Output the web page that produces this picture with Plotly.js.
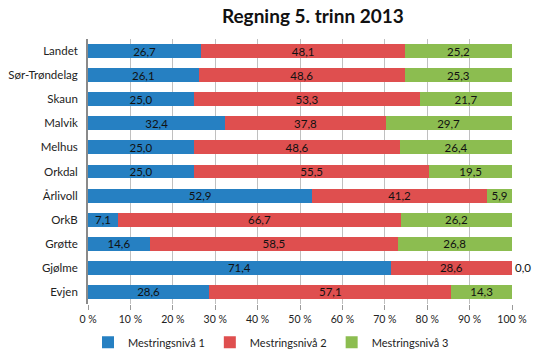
<!DOCTYPE html>
<html><head><meta charset="utf-8">
<script src="https://cdn.plot.ly/plotly-3.0.1.min.js"></script>
<style>html,body{margin:0;padding:0;background:#fff}#c{width:533px;height:360px}</style>
</head><body><div id="c"></div>
<script>
const categories = ["Landet","Sør-Trøndelag","Skaun","Malvik","Melhus","Orkdal","Årlivoll","OrkB","Grøtte","Gjølme","Evjen"];
const niva1 = [26.7,26.1,25.0,32.4,25.0,25.0,52.9,7.1,14.6,71.4,28.6];
const niva2 = [48.1,48.6,53.3,37.8,48.6,55.5,41.2,66.7,58.5,28.6,57.1];
const niva3 = [25.2,25.3,21.7,29.7,26.4,19.5,5.9,26.2,26.8,0.0,14.3];
const seriesNames = ["Mestringsnivå 1","Mestringsnivå 2","Mestringsnivå 3"];
const tickVals = [0,10,20,30,40,50,60,70,80,90,100];
const tickText = ["0 %","10 %","20 %","30 %","40 %","50 %","60 %","70 %","80 %","90 %","100 %"];
const colors = ["#2680c2","#df4f4f","#8cbd50"];
const font = "Lato, 'Open Sans', sans-serif";

function mk(vals, i){
  return {
    type:"bar", orientation:"h", x:vals, y:categories, name:seriesNames[i],
    marker:{color:colors[i]},
    texttemplate:"%{x:.1f}",
    textposition: vals.map(v => v === 0 ? "outside" : "inside"),
    insidetextanchor:"middle", textangle:0, constraintext:"none",
    textfont:{family:font, size:11.5, color:"#111"},
    outsidetextfont:{family:font, size:11.5, color:"#111"},
    cliponaxis:false, hoverinfo:"none"
  };
}
const data = [mk(niva1,0), mk(niva2,1), mk(niva3,2)];
const layout = {
  width:533, height:360, barmode:"stack", bargap:0.42, separators:",.",
  paper_bgcolor:"#fff", plot_bgcolor:"#fff",
  margin:{l:88, r:21, t:39, b:56, autoexpand:false},
  font:{family:font, size:11, color:"#222"},
  title:{text:"<b>Regning 5. trinn 2013</b>", x:0.587, xanchor:"center", y:0.955, yanchor:"middle",
         font:{family:font, size:19, color:"#111"}},
  xaxis:{range:[0,100], tickvals:tickVals, ticktext:tickText, showgrid:true, gridcolor:"#c0c0c0", gridwidth:1,
         zeroline:false, ticks:"outside", ticklen:5, tickcolor:"#9a9a9a", showline:false,
         tickfont:{family:font, size:10.5, color:"#222"}, fixedrange:true},
  yaxis:{autorange:"reversed", showline:true, linecolor:"#8a8a8a", linewidth:2, ticks:"", showgrid:false,
         ticksuffix:"  ", tickfont:{family:font, size:11.5, color:"#222"}, fixedrange:true},
  legend:{orientation:"h", x:0.0, xanchor:"left", y:-0.09, yanchor:"top",
          font:{family:font, size:11, color:"#222"}, traceorder:"normal"},
  showlegend:true
};
Plotly.newPlot("c", data, layout, {displayModeBar:false, staticPlot:true});
</script></body></html>
